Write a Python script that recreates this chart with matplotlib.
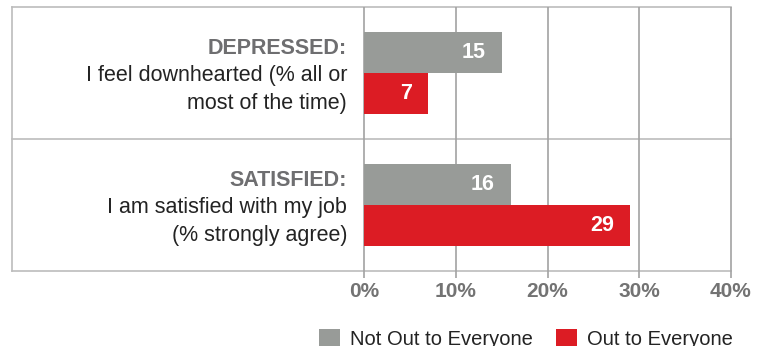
import numpy as np
import matplotlib.pyplot as plt
from matplotlib.patches import Patch
import matplotlib.transforms as mtransforms

plt.rcParams['font.family'] = ['Liberation Sans', 'DejaVu Sans']

headers = ["DEPRESSED:", "SATISFIED:"]
descriptions = [["I feel downhearted (% all or", "most of the time)"],
                ["I am satisfied with my job", "(% strongly agree)"]]
not_out = [15, 16]
out = [7, 29]
series_names = ["Not Out to Everyone", "Out to Everyone"]
xticks = [0, 10, 20, 30, 40]

GREY = '#989b98'
RED = '#dc1c24'
W, H = 766, 346

fig = plt.figure(figsize=(W / 100, H / 100), dpi=100)
ax = fig.add_axes([364 / W, 1 - 271 / H, (731 - 364) / W, 264 / H])
ax.set_xlim(0, 40)
ax.set_ylim(1.5, -0.5)
for s in ax.spines.values():
    s.set_visible(False)

y = np.arange(len(headers))
h = 41 / 132
ax.barh(y - h / 2, not_out, height=h, color=GREY, zorder=3)
ax.barh(y + h / 2, out, height=h, color=RED, zorder=3)

for yi, v in zip(y - h / 2, not_out):
    ax.annotate(str(v), (v, yi), xytext=(-11.5, 0), textcoords='offset points',
                ha='right', va='center', color='white', fontsize=15.5,
                fontweight='bold', zorder=4)
for yi, v in zip(y + h / 2, out):
    ax.annotate(str(v), (v, yi), xytext=(-11.5, 0), textcoords='offset points',
                ha='right', va='center', color='white', fontsize=15.5,
                fontweight='bold', zorder=4)

# frame and grid
left = (12 - 364) / (731 - 364)
tr_x = mtransforms.blended_transform_factory(ax.transAxes, ax.transData)
tr_y = mtransforms.blended_transform_factory(ax.transData, ax.transAxes)
for yl in [-0.5, 0.5, 1.5]:
    ax.plot([left, 1], [yl, yl], transform=tr_x, color='#bcbcbc', lw=1.2,
            clip_on=False, zorder=1)
ax.plot([left, left], [0, 1], transform=ax.transAxes, color='#bcbcbc', lw=1.2,
        clip_on=False, zorder=1)
ax.vlines(xticks, -7 / 264, 1, transform=tr_y, color='#a2a2a2', lw=1.2,
          clip_on=False, zorder=2)

# category labels
tx = (347 - 364) / (731 - 364)
for yi, head, desc in zip(y, headers, descriptions):
    ax.text(tx, yi - 0.144, head, transform=tr_x, ha='right', va='baseline',
            fontsize=15.5, fontweight='bold', color='#6e6e70')
    for k, line in enumerate(desc):
        ax.text(tx, yi + 0.062 + k * 0.211, line, transform=tr_x, ha='right',
                va='baseline', fontsize=15.5, color='#232323')

ax.set_yticks([])
ax.set_xticks(xticks)
ax.set_xticklabels([f"{v}%" for v in xticks], fontsize=15, fontweight='bold',
                   color='#737373')
ax.tick_params(axis='x', length=0, pad=8)

handles = [Patch(facecolor=GREY), Patch(facecolor=RED)]
fig.legend(handles, series_names, loc='upper left',
           bbox_to_anchor=(319 / W, 1 - 329 / H), ncol=2, frameon=False,
           fontsize=14.5, handlelength=1.05, handleheight=1.05, handletextpad=0.5,
           columnspacing=1.15, borderpad=0, borderaxespad=0, labelcolor='#232323')

fig.savefig('out.png', dpi=100)
